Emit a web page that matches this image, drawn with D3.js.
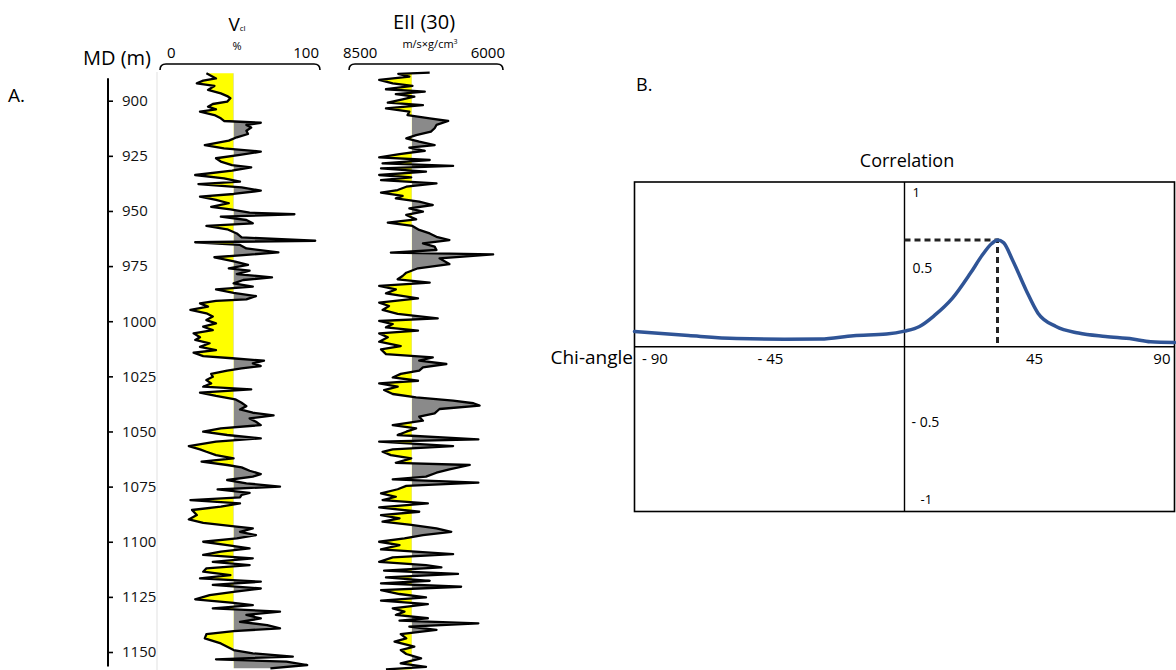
<!DOCTYPE html>
<html>
<head>
<meta charset="utf-8">
<script src="https://cdn.jsdelivr.net/npm/d3@7"></script>
<style>
  body { margin: 0; background: #fff; }
  svg { display: block; font-family: "Open Sans", sans-serif; }
</style>
</head>
<body>
<svg id="chart" width="1176" height="670"></svg>
<script>
// ---- Measured depth ticks (m) ----
const depthTicks = [900, 925, 950, 975, 1000, 1025, 1050, 1075, 1100, 1125, 1150];

// ---- Vcl log (%) ----
const vclDepth = [887.6, 889.9, 890.9, 892.1, 893.3, 895.1, 896.7, 897.9, 898.9, 900.4,
  901.5, 902.7, 903.9, 905.0, 906.5, 908.0, 909.2, 910.0, 911.0, 912.2,
  913.6, 915.1, 916.6, 918.1, 920.1, 921.6, 923.1, 924.6, 926.1, 927.6,
  929.2, 930.2, 931.7, 933.7, 935.2, 936.7, 937.8, 939.3, 940.8, 942.3,
  943.5, 945.0, 946.5, 948.1, 949.3, 950.8, 951.5, 952.6, 954.1, 955.6,
  956.8, 958.3, 960.2, 962.0, 963.5, 964.2, 965.4, 967.0, 968.8, 971.0,
  973.0, 974.5, 976.0, 977.1, 978.6, 980.1, 981.3, 982.8, 984.3, 985.6,
  987.1, 988.6, 990.1, 990.8, 991.9, 993.4, 994.9, 996.4, 997.9, 999.5,
  1001.0, 1002.5, 1004.0, 1005.5, 1007.3, 1008.5, 1010.0, 1011.6, 1013.1, 1014.3,
  1015.8, 1016.8, 1017.9, 1019.1, 1020.3, 1021.4, 1022.4, 1023.9, 1025.2, 1026.7,
  1028.2, 1029.7, 1030.9, 1032.4, 1033.9, 1035.4, 1037.0, 1038.5, 1040.0, 1041.5,
  1042.7, 1044.1, 1045.6, 1047.1, 1048.6, 1050.1, 1051.6, 1053.1, 1054.6, 1056.6,
  1058.1, 1059.2, 1060.7, 1062.2, 1063.7, 1065.2, 1066.3, 1067.8, 1069.3, 1070.5,
  1072.0, 1073.5, 1075.0, 1076.3, 1077.8, 1078.8, 1079.9, 1081.1, 1082.6, 1084.1,
  1085.6, 1087.9, 1089.9, 1091.4, 1092.9, 1093.9, 1095.5, 1097.0, 1098.5, 1100.0,
  1101.5, 1103.0, 1104.5, 1106.0, 1107.5, 1109.1, 1110.6, 1112.1, 1113.6, 1115.1,
  1116.6, 1118.1, 1119.6, 1121.2, 1122.7, 1124.2, 1126.1, 1127.7, 1128.7, 1130.2,
  1131.7, 1133.2, 1134.8, 1136.3, 1137.8, 1139.3, 1140.5, 1141.9, 1143.8, 1146.1,
  1147.6, 1149.1, 1150.6, 1152.1, 1153.3, 1154.4, 1155.9, 1157.4];
const vclValue = [29, 35, 27, 23, 34, 30, 38, 42, 44, 42,
  33, 30, 35, 25, 34, 38, 40, 63, 54, 57,
  54, 55, 48, 43, 28, 40, 63, 50, 35, 38,
  45, 57, 45, 22, 40, 50, 24, 51, 63, 46,
  25, 35, 43, 32, 44, 56, 84, 38, 54, 58,
  29, 42, 48, 51, 97, 22, 50, 54, 74, 34,
  47, 55, 43, 56, 48, 70, 52, 46, 58, 35,
  46, 60, 54, 35, 25, 30, 19, 29, 33, 29,
  35, 27, 33, 21, 25, 22, 31, 25, 35, 21,
  27, 45, 65, 58, 63, 51, 42, 32, 33, 29,
  32, 27, 57, 25, 35, 47, 51, 54, 50, 58,
  71, 56, 60, 63, 38, 27, 42, 63, 35, 18,
  25, 29, 35, 46, 26, 42, 51, 56, 63, 58,
  42, 54, 75, 36, 56, 51, 50, 19, 50, 38,
  20, 23, 18, 27, 45, 58, 50, 60, 48, 27,
  42, 56, 38, 27, 58, 33, 56, 29, 27, 44,
  25, 63, 33, 63, 46, 31, 22, 46, 58, 33,
  75, 54, 63, 50, 67, 75, 46, 29, 28, 38,
  42, 46, 58, 83, 35, 79, 92, 69];
const vclCutoff = 46;

// ---- EII(30) log (m/s x g/cm3) ----
const eiiDepth = [887.3, 887.8, 889.1, 890.6, 892.1, 893.3, 894.8, 895.9, 897.0, 898.2,
  899.4, 900.9, 902.0, 903.5, 905.0, 906.5, 908.0, 909.2, 911.0, 912.5,
  914.0, 915.6, 917.1, 918.6, 920.1, 921.3, 922.7, 924.2, 925.7, 926.9,
  928.4, 929.6, 930.7, 932.2, 933.7, 934.8, 936.0, 937.5, 939.0, 940.5,
  941.7, 943.2, 944.3, 945.8, 947.3, 948.8, 950.3, 951.8, 953.8, 955.3,
  956.8, 958.6, 960.2, 961.7, 963.2, 964.7, 966.2, 967.7, 968.9, 969.7,
  971.5, 974.1, 976.0, 978.0, 979.5, 981.0, 982.5, 984.0, 985.6, 987.4,
  989.6, 991.6, 993.1, 994.9, 996.7, 998.7, 999.9, 1001.3, 1002.8, 1004.3,
  1005.5, 1007.3, 1009.3, 1011.3, 1012.8, 1014.9, 1016.4, 1017.9, 1019.4, 1020.9,
  1022.4, 1023.9, 1025.5, 1027.0, 1028.2, 1029.7, 1031.2, 1033.0, 1034.5, 1036.0,
  1037.2, 1038.3, 1039.8, 1041.8, 1043.3, 1045.1, 1047.1, 1048.6, 1050.1, 1051.6,
  1053.6, 1054.6, 1056.6, 1058.1, 1059.2, 1060.7, 1062.2, 1064.2, 1065.2, 1067.2,
  1068.7, 1070.5, 1071.7, 1073.2, 1074.7, 1076.2, 1078.1, 1079.6, 1081.1, 1082.6,
  1084.4, 1086.4, 1087.9, 1089.4, 1090.9, 1092.4, 1093.9, 1095.5, 1097.0, 1098.5,
  1100.0, 1101.5, 1103.5, 1105.6, 1107.1, 1109.1, 1110.6, 1111.6, 1113.1, 1114.6,
  1116.2, 1117.7, 1118.9, 1120.4, 1121.9, 1123.7, 1125.2, 1126.7, 1128.3, 1130.2,
  1131.7, 1133.2, 1134.7, 1135.8, 1137.0, 1138.5, 1140.0, 1141.9, 1143.8, 1145.3,
  1147.6, 1149.1, 1150.9, 1152.9, 1155.2, 1156.7, 1157.9];
const eiiValue = [7190, 7700, 7520, 8010, 7790, 7470, 7900, 7270, 7740, 7440,
  7630, 7870, 7300, 7900, 7520, 7550, 7190, 6890, 7080, 7110,
  7170, 7410, 7570, 7360, 7110, 7520, 7270, 7680, 8010, 7190,
  7955, 6810, 7980, 7250, 8010, 7490, 7980, 7080, 7570, 7710,
  7980, 7630, 7740, 7360, 7140, 7520, 7300, 7570, 7410, 7870,
  7470, 7360, 7190, 7080, 6870, 7300, 7110, 7080, 7820, 6160,
  7030, 6870, 7380, 7570, 7630, 7710, 7190, 8010, 7740, 7900,
  7380, 8010, 7850, 7955, 7710, 7060, 8010, 7790, 7900, 7380,
  8010, 7870, 8010, 7660, 7980, 7900, 7140, 7360, 6920, 7300,
  7360, 7660, 7790, 7380, 8010, 7710, 7930, 7790, 7410, 6810,
  6480, 6380, 7030, 7110, 7360, 7300, 7790, 7410, 7570, 7710,
  6400, 8010, 6810, 7790, 7955, 7820, 7490, 7740, 6540, 6870,
  7080, 7250, 7790, 6400, 7570, 7710, 7980, 7740, 7955, 7220,
  8010, 7360, 7980, 7680, 7955, 7490, 7080, 6840, 7300, 7600,
  8010, 7680, 7980, 6810, 7790, 8010, 7250, 7000, 7930, 6730,
  7900, 7190, 7980, 6680, 7980, 7680, 7250, 7980, 7220, 7790,
  7600, 7740, 7220, 7680, 6400, 7520, 7080, 7660, 7570, 7760,
  7440, 7660, 7570, 7330, 7660, 7250, 7900];
const eiiCutoff = 7480;

// ---- Correlation against chi-angle ----
const chiAngle = [-90, -72, -56, -40, -28, -17, -6, 0, 5, 10, 16, 22, 26, 29, 31, 33, 36, 40.5, 44.5, 50.5, 58, 67, 76, 82, 90];
const correlation = [0.093, 0.068, 0.05, 0.046, 0.047, 0.067, 0.077, 0.095, 0.123, 0.19, 0.295, 0.447, 0.558, 0.625, 0.648, 0.632, 0.527, 0.345, 0.204, 0.123, 0.083, 0.062, 0.047, 0.03, 0.026];
const chiTicks = [-90, -45, 45, 90];
const chiTickText = ["- 90", "- 45", "45", "90"];
const corrTicks = [1, 0.5, -0.5, -1];
const corrTickText = ["1", "0.5", "- 0.5", "-1"];

const svg = d3.select("#chart");

// ================= Panel A: well logs =================
const y = d3.scaleLinear().domain([900, 1150]).range([100.7, 652]);
const xVcl = d3.scaleLinear().domain([0, 100]).range([160, 320]);
const xEii = d3.scaleLinear().domain([8500, 6000]).range([349, 503]);

svg.append("text").attr("x", 8).attr("y", 102).attr("font-size", 19).text("A.");
svg.append("text").attr("x", 151).attr("y", 65).attr("font-size", 20)
  .attr("text-anchor", "end").text("MD (m)");

// depth axis
svg.append("line").attr("x1", 108).attr("x2", 108)
  .attr("y1", y(889.8)).attr("y2", y(1156.6))
  .attr("stroke", "#000").attr("stroke-width", 2);
const depthAxis = svg.append("g").attr("transform", "translate(108,0)")
  .call(d3.axisRight(y).tickValues(depthTicks).tickFormat(d3.format("d"))
    .tickSize(5).tickPadding(9));
depthAxis.select(".domain").remove();
depthAxis.selectAll(".tick line").attr("stroke", "#000").attr("stroke-width", 1.6);
depthAxis.selectAll(".tick text").attr("font-size", 15)
  .attr("font-family", "'Open Sans', sans-serif").attr("fill", "#111");

// faint left edge of the Vcl track
svg.append("line").attr("x1", 157).attr("x2", 157).attr("y1", 72).attr("y2", 670)
  .attr("stroke", "#e6e6e6").attr("stroke-width", 1.2);

// track header bracket
function bracket(x0, x1) {
  const top = 64, drop = 6, r = 6;
  svg.append("path")
    .attr("d", `M${x0},${top + drop} Q${x0},${top} ${x0 + r},${top} H${x1 - r} Q${x1},${top} ${x1},${top + drop}`)
    .attr("fill", "none").attr("stroke", "#000").attr("stroke-width", 1.6);
}

// Vcl header
const vHead = svg.append("text").attr("x", 237).attr("y", 31)
  .attr("text-anchor", "middle").attr("font-size", 19);
vHead.append("tspan").text("V");
vHead.append("tspan").attr("font-size", 8).text("cl");
svg.append("text").attr("x", 237).attr("y", 50).attr("text-anchor", "middle")
  .attr("font-size", 11).text("%");
svg.append("text").attr("x", xVcl(0) + 7).attr("y", 58).attr("font-size", 15).text("0");
svg.append("text").attr("x", xVcl(100) - 1).attr("y", 58).attr("font-size", 15)
  .attr("text-anchor", "end").text("100");
bracket(xVcl(0), xVcl(100));

// EII header
svg.append("text").attr("x", 424).attr("y", 29).attr("text-anchor", "middle")
  .attr("font-size", 20).text("EII (30)");
const unit = svg.append("text").attr("x", 430).attr("y", 48)
  .attr("text-anchor", "middle").attr("font-size", 11);
unit.append("tspan").text("m/s\u00D7g/cm");
unit.append("tspan").attr("font-size", 7).attr("dy", -4).text("3");
svg.append("text").attr("x", 343).attr("y", 58).attr("font-size", 15).text("8500");
svg.append("text").attr("x", 505).attr("y", 58).attr("font-size", 15)
  .attr("text-anchor", "end").text("6000");
bracket(xEii(8500), xEii(6000));

// a log curve with yellow fill on the low side of the cutoff and grey on the high side
function drawLog(id, depths, values, x, cutoff) {
  const pts = depths.map((d, i) => ({ d, v: values[i] }));
  const xcut = x(cutoff);
  const defs = svg.append("defs");
  defs.append("clipPath").attr("id", id + "-l")
    .append("rect").attr("x", 0).attr("y", 0).attr("width", xcut).attr("height", 670);
  defs.append("clipPath").attr("id", id + "-r")
    .append("rect").attr("x", xcut).attr("y", 0).attr("width", 1176 - xcut).attr("height", 670);

  const area = d3.area().y(p => y(p.d)).x0(xcut).x1(p => x(p.v));
  const g = svg.append("g");
  g.append("path").datum(pts).attr("d", area).attr("fill", "#ffff00")
    .attr("clip-path", `url(#${id}-l)`);
  g.append("path").datum(pts).attr("d", area).attr("fill", "#8a8a8a")
    .attr("clip-path", `url(#${id}-r)`);
  g.append("path").datum(pts)
    .attr("d", d3.line().x(p => x(p.v)).y(p => y(p.d)))
    .attr("fill", "none").attr("stroke", "#000").attr("stroke-width", 2.3)
    .attr("stroke-linejoin", "round");
}

drawLog("vcl", vclDepth, vclValue, xVcl, vclCutoff);
drawLog("eii", eiiDepth, eiiValue, xEii, eiiCutoff);

// ================= Panel B: correlation curve =================
const xc = d3.scaleLinear().domain([-90, 90]).range([634.5, 1174.5]);
const yc = d3.scaleLinear().domain([-1, 1]).range([511.5, 182]);

svg.append("text").attr("x", 636).attr("y", 91).attr("font-size", 18).text("B.");
svg.append("text").attr("x", 907).attr("y", 167).attr("text-anchor", "middle")
  .attr("font-size", 18).text("Correlation");

svg.append("rect").attr("x", xc(-90)).attr("y", yc(1))
  .attr("width", xc(90) - xc(-90)).attr("height", yc(-1) - yc(1))
  .attr("fill", "none").attr("stroke", "#000").attr("stroke-width", 1.6);
svg.append("line").attr("x1", xc(0)).attr("x2", xc(0)).attr("y1", yc(1)).attr("y2", yc(-1))
  .attr("stroke", "#000").attr("stroke-width", 1.4);
svg.append("line").attr("x1", xc(-90)).attr("x2", xc(90)).attr("y1", yc(0)).attr("y2", yc(0))
  .attr("stroke", "#000").attr("stroke-width", 1.6);

svg.append("text").attr("x", 633).attr("y", 364).attr("text-anchor", "end")
  .attr("font-size", 19).text("Chi-angle");

// x tick labels sit just below the zero line
const xLabelShift = [7.5, 1, -5, -4];
const xLabelAnchor = ["start", "middle", "middle", "end"];
svg.append("g").selectAll("text").data(chiTicks).join("text")
  .attr("x", (d, i) => xc(d) + xLabelShift[i])
  .attr("y", yc(0) + 17)
  .attr("text-anchor", (d, i) => xLabelAnchor[i])
  .attr("font-size", 15)
  .text((d, i) => chiTickText[i]);

// y tick labels placed to the right of the vertical zero line
const yLabelDx = [8, 8, 7, 16];
const yLabelDy = [15, 8.5, -2.5, -8];
const yLabelSize = [13, 14, 14, 13];
svg.append("g").selectAll("text").data(corrTicks).join("text")
  .attr("x", (d, i) => xc(0) + yLabelDx[i])
  .attr("y", (d, i) => yc(d) + yLabelDy[i])
  .attr("font-size", (d, i) => yLabelSize[i])
  .text((d, i) => corrTickText[i]);

// peak of the correlation curve with dashed guides to the axes
const iPeak = d3.maxIndex(correlation);
const peakAngle = chiAngle[iPeak], peakCorr = correlation[iPeak];
svg.append("path")
  .attr("d", `M${xc(0)},${yc(peakCorr)} H${xc(peakAngle)} V${yc(0)}`)
  .attr("fill", "none").attr("stroke", "#222").attr("stroke-width", 3)
  .attr("stroke-dasharray", "6,4");

const curve = chiAngle.map((a, i) => [a, correlation[i]]);
svg.append("path").datum(curve)
  .attr("d", d3.line().x(d => xc(d[0])).y(d => yc(d[1])).curve(d3.curveMonotoneX))
  .attr("fill", "none").attr("stroke", "#2f5496").attr("stroke-width", 3.5)
  .attr("stroke-linecap", "round");
</script>
</body>
</html>
